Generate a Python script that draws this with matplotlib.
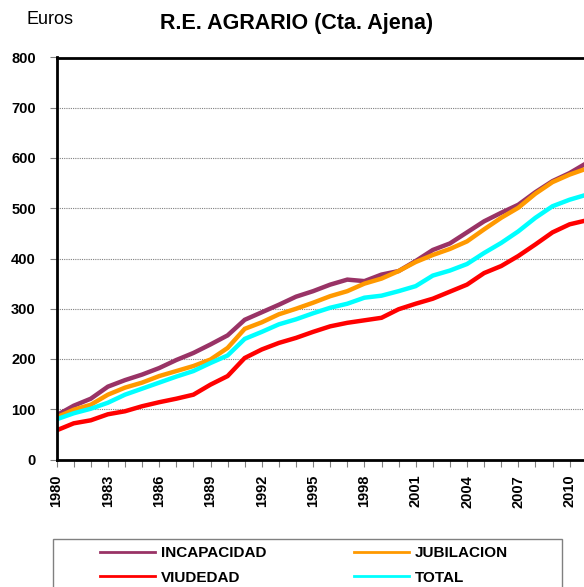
import numpy as np
import matplotlib
matplotlib.use("Agg")
import matplotlib.pyplot as plt
from matplotlib.patches import Rectangle
from matplotlib.ticker import MultipleLocator

years = list(range(1980, 2012))
incapacidad = [88, 107, 121, 145, 158, 169, 182, 198, 212, 229, 247, 278,
               293, 308, 324, 335, 348, 358, 355, 368, 375, 395, 417, 430,
               452, 474, 491, 507, 532, 554, 570, 590]
jubilacion = [84, 99, 109, 129, 143, 153, 166, 176, 186, 199, 222, 260,
              273, 289, 300, 312, 325, 335, 350, 360, 375, 393, 407, 419,
              434, 458, 481, 501, 529, 552, 567, 579]
viudedad = [58, 72, 78, 90, 96, 106, 114, 121, 129, 149, 166, 202,
            219, 232, 242, 254, 265, 272, 277, 282, 299, 310, 320, 334,
            348, 371, 385, 405, 428, 452, 468, 476]
total = [80, 92, 101, 113, 129, 141, 153, 165, 176, 192, 207, 240,
         254, 269, 279, 291, 302, 310, 322, 326, 335, 345, 366, 376,
         389, 411, 431, 454, 481, 504, 517, 527]

series = [("INCAPACIDAD", incapacidad, "#993366"),
          ("JUBILACION", jubilacion, "#FF9900"),
          ("VIUDEDAD", viudedad, "#FF0000"),
          ("TOTAL", total, "#00FFFF")]

plt.rcParams['font.family'] = ['Liberation Sans', 'DejaVu Sans']

W, H = 584, 587
fig = plt.figure(figsize=(W / 100, H / 100), dpi=100)
# plot area runs past the right edge of the picture, as in the original
x0, x1 = 56.6, 56.6 + 31 * 17.1
y0, y1 = 459.5, 57.5
ax = fig.add_axes([x0 / W, 1 - y0 / H, (x1 - x0) / W, (y0 - y1) / H])

lines = {}
for name, vals, col in series:
    ln, = ax.plot(years, vals, color=col, lw=3.2, label=name,
                  solid_joinstyle='miter')
    lines[name] = ln

ax.set_xlim(1980, 2011)
ax.set_ylim(0, 800)
ax.yaxis.set_major_locator(MultipleLocator(100))
ax.xaxis.set_minor_locator(MultipleLocator(1))
ax.grid(axis='y', color='#808080', ls=(0, (1, 1)), lw=0.8)
ax.set_axisbelow(True)

for s in ['left', 'top', 'bottom', 'right']:
    ax.spines[s].set_linewidth(2)
    ax.spines[s].set_color('black')

ax.tick_params(axis='both', which='both', direction='out', color='#808080',
               width=0.8)
ax.tick_params(axis='x', which='major', length=5, pad=6)
ax.tick_params(axis='x', which='minor', length=5)
ax.tick_params(axis='y', length=5, pad=10)
for lab in ax.get_yticklabels():
    lab.set_fontweight('bold')
    lab.set_fontsize(10.5)
ax.set_xticks(range(1980, 2011, 3))
ax.set_xticklabels([str(y) for y in range(1980, 2011, 3)], rotation=90,
                   fontsize=10.5, fontweight='bold', va='top')

fig.text(27 / W, 1 - 19 / H, "Euros", fontsize=13, ha='left', va='center')
fig.text(297 / W, 1 - 24 / H, "R.E. AGRARIO (Cta. Ajena)", fontsize=15.5,
         fontweight='bold', ha='center', va='center')

# legend frame
fig.patches.append(Rectangle((53 / W, -0.05), (562 - 53) / W,
                             0.05 + 1 - 539 / H, transform=fig.transFigure,
                             fill=False, edgecolor='#808080', lw=1))
order = ["INCAPACIDAD", "VIUDEDAD", "JUBILACION", "TOTAL"]
leg = fig.legend(handles=[lines[k] for k in order], ncol=2, loc='upper left',
                 bbox_to_anchor=(100 / W, 1 - 552 / H, (508 - 100) / W, 0.01),
                 mode='expand', frameon=False, borderaxespad=0, borderpad=0,
                 handlelength=3.6, handletextpad=0.4, labelspacing=0.7,
                 prop={'weight': 'bold', 'size': 11})
for h in leg.get_lines():
    h.set_linewidth(2)

fig.savefig("out.png", dpi=100)
